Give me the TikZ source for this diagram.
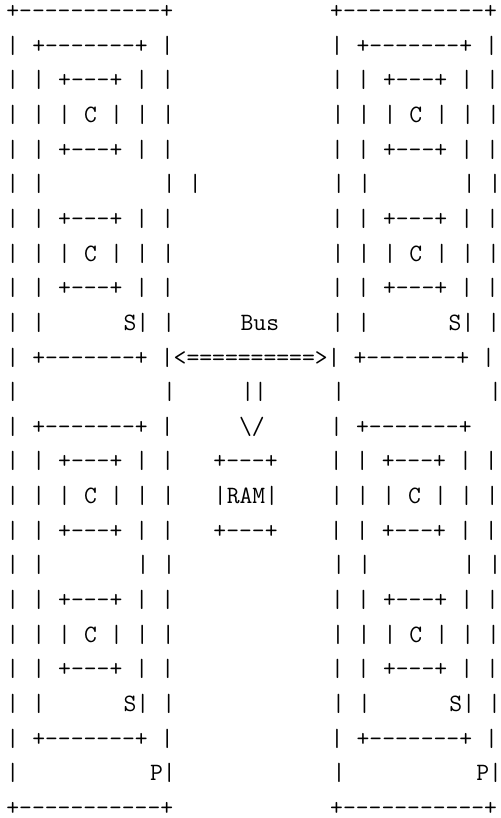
\documentclass[tikz,border=0pt]{standalone}
\newcommand\gap[1]{\kern\dimexpr 0.525em*#1\relax}
\tikzset{ascii/.style={inner sep=0pt, outer sep=0pt, anchor=base west,
  font=\fontsize{12.46}{17.39}\selectfont\ttfamily}}
\begin{document}
\begin{tikzpicture}[x=1pt,y=1pt]
\fill[white] (0,0) rectangle (250.5,-409);
\useasboundingbox (0,0) rectangle (250.5,-409);
\foreach \t [count=\i] in {
 {+-----------+\gap{12}+-----------+},
 {|\gap{1}+-------+\gap{1}|\gap{12}|\gap{1}+-------+\gap{1}|},
 {|\gap{1}|\gap{1}+---+\gap{1}|\gap{1}|\gap{12}|\gap{1}|\gap{1}+---+\gap{1}|\gap{1}|},
 {|\gap{1}|\gap{1}|\gap{1}C\gap{1}|\gap{1}|\gap{1}|\gap{12}|\gap{1}|\gap{1}|\gap{1}C\gap{1}|\gap{1}|\gap{1}|},
 {|\gap{1}|\gap{1}+---+\gap{1}|\gap{1}|\gap{12}|\gap{1}|\gap{1}+---+\gap{1}|\gap{1}|},
 {|\gap{1}|\gap{9}|\gap{1}|\gap{10}|\gap{1}|\gap{7}|\gap{1}|},
 {|\gap{1}|\gap{1}+---+\gap{1}|\gap{1}|\gap{12}|\gap{1}|\gap{1}+---+\gap{1}|\gap{1}|},
 {|\gap{1}|\gap{1}|\gap{1}C\gap{1}|\gap{1}|\gap{1}|\gap{12}|\gap{1}|\gap{1}|\gap{1}C\gap{1}|\gap{1}|\gap{1}|},
 {|\gap{1}|\gap{1}+---+\gap{1}|\gap{1}|\gap{12}|\gap{1}|\gap{1}+---+\gap{1}|\gap{1}|},
 {|\gap{1}|\gap{6}S|\gap{1}|\gap{5}Bus\gap{4}|\gap{1}|\gap{6}S|\gap{1}|},
 {|\gap{1}+-------+\gap{1}|<==========>|\gap{1}+-------+\gap{1}|},
 {|\gap{11}|\gap{5}||\gap{5}|\gap{11}|},
 {|\gap{1}+-------+\gap{1}|\gap{5}\textbackslash/\gap{5}|\gap{1}+-------+},
 {|\gap{1}|\gap{1}+---+\gap{1}|\gap{1}|\gap{3}+---+\gap{4}|\gap{1}|\gap{1}+---+\gap{1}|\gap{1}|},
 {|\gap{1}|\gap{1}|\gap{1}C\gap{1}|\gap{1}|\gap{1}|\gap{3}|RAM|\gap{4}|\gap{1}|\gap{1}|\gap{1}C\gap{1}|\gap{1}|\gap{1}|},
 {|\gap{1}|\gap{1}+---+\gap{1}|\gap{1}|\gap{3}+---+\gap{4}|\gap{1}|\gap{1}+---+\gap{1}|\gap{1}|},
 {|\gap{1}|\gap{7}|\gap{1}|\gap{12}|\gap{1}|\gap{7}|\gap{1}|},
 {|\gap{1}|\gap{1}+---+\gap{1}|\gap{1}|\gap{12}|\gap{1}|\gap{1}+---+\gap{1}|\gap{1}|},
 {|\gap{1}|\gap{1}|\gap{1}C\gap{1}|\gap{1}|\gap{1}|\gap{12}|\gap{1}|\gap{1}|\gap{1}C\gap{1}|\gap{1}|\gap{1}|},
 {|\gap{1}|\gap{1}+---+\gap{1}|\gap{1}|\gap{12}|\gap{1}|\gap{1}+---+\gap{1}|\gap{1}|},
 {|\gap{1}|\gap{6}S|\gap{1}|\gap{12}|\gap{1}|\gap{6}S|\gap{1}|},
 {|\gap{1}+-------+\gap{1}|\gap{12}|\gap{1}+-------+\gap{1}|},
 {|\gap{10}P|\gap{12}|\gap{10}P|},
 {+-----------+\gap{12}+-----------+}}
{
  \node[ascii] (l\i) at (3.2,{-9.3-(\i-1)*17.32}) {\t};
}
\end{tikzpicture}
\end{document}
